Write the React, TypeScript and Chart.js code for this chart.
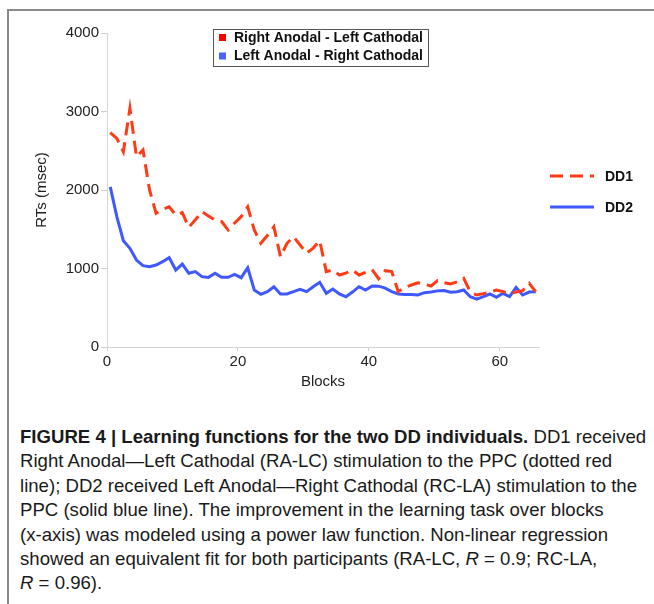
import React, { useEffect, useRef } from "react";
import { Chart, registerables } from "chart.js";

Chart.register(...registerables);

const blocks = Array.from({ length: 66 }, (_, i) => i + 0.5);

const dd1 = [
  2730, 2658, 2488, 3040, 2424, 2510, 2000, 1703, 1750, 1787,
  1682, 1711, 1525, 1620, 1724, 1670, 1618, 1600, 1490, 1580,
  1660, 1787, 1490, 1321, 1420, 1532, 1150, 1321, 1405, 1300,
  1194, 1260, 1354, 960, 981, 917, 940, 981, 917, 950,
  985, 870, 972, 960, 705, 760, 790, 819, 800, 777,
  845, 820, 803, 830, 875, 700, 662, 680, 700, 726,
  705, 684, 700, 717, 811, 705,
];

const dd2 = [
  2040, 1660, 1354, 1257, 1108, 1036, 1023, 1045, 1087, 1138,
  981, 1057, 939, 960, 896, 887, 939, 887, 887, 926,
  883, 1010, 726, 671, 705, 768, 675, 675, 705, 735,
  705, 768, 824, 684, 739, 675, 641, 700, 768, 726,
  777, 775, 750, 705, 675, 668, 670, 662, 692, 700,
  715, 720, 697, 705, 726, 641, 611, 641, 675, 632,
  684, 641, 760, 662, 700, 705,
];

const xTicks = [0, 20, 40, 60];
const yTicks = [0, 1000, 2000, 3000, 4000];
const seriesNames = ["DD1", "DD2"];
const boxLegend = ["Right Anodal - Left Cathodal", "Left Anodal - Right Cathodal"];

const RED = "#ff3a14";
const BLUE = "#3f58ff";
const FONT = "'Liberation Sans', Arial, Helvetica, sans-serif";

const legendPlugin = {
  id: "customLegends",
  afterDraw(chart: any) {
    const ctx = chart.ctx;
    ctx.save();
    ctx.strokeStyle = "#555";
    ctx.lineWidth = 1;
    ctx.strokeRect(213.5, 29.5, 215, 37);
    const sq = ["#ff0000", "#4a64ff"];
    const ys = [37.5, 56];
    ctx.font = "bold 14px " + FONT;
    ctx.textBaseline = "middle";
    ctx.textAlign = "left";
    for (let i = 0; i < 2; i++) {
      ctx.fillStyle = sq[i];
      ctx.fillRect(219, ys[i] - 3.5, 7, 7);
      ctx.fillStyle = "#111";
      ctx.fillText(boxLegend[i], 234, ys[i] + 0.5);
    }
    const ly = [176, 207];
    ctx.lineWidth = 3;
    for (let i = 0; i < 2; i++) {
      ctx.beginPath();
      ctx.strokeStyle = i === 0 ? RED : BLUE;
      ctx.setLineDash(i === 0 ? [13, 7] : []);
      ctx.moveTo(550, ly[i]);
      ctx.lineTo(594, ly[i]);
      ctx.stroke();
      ctx.setLineDash([]);
      ctx.fillStyle = "#111";
      ctx.font = "bold 14px " + FONT;
      ctx.fillText(seriesNames[i], 605, ly[i] + 1);
    }
    ctx.restore();
  },
};

export default function App() {
  const ref = useRef<HTMLCanvasElement>(null);
  useEffect(() => {
    if (!ref.current) return;
    const chart = new Chart(ref.current, {
      type: "line",
      data: {
        datasets: [
          {
            label: seriesNames[0],
            data: blocks.map((b, i) => ({ x: b, y: dd1[i] })),
            borderColor: RED,
            borderWidth: 3,
            borderDash: [13, 7],
            pointRadius: 0,
            tension: 0,
            fill: false,
          },
          {
            label: seriesNames[1],
            data: blocks.map((b, i) => ({ x: b, y: dd2[i] })),
            borderColor: BLUE,
            borderWidth: 3,
            pointRadius: 0,
            tension: 0,
            fill: false,
          },
        ],
      },
      options: {
        animation: false,
        responsive: false,
        devicePixelRatio: 1,
        layout: { padding: { left: 0, top: 33, right: 115, bottom: 0 } },
        plugins: { legend: { display: false }, tooltip: { enabled: false } },
        scales: {
          x: {
            type: "linear",
            min: 0,
            max: 66,
            afterBuildTicks: (s: any) => {
              s.ticks = xTicks.map((v) => ({ value: v }));
            },
            afterFit: (s: any) => {
              s.height = 53;
            },
            grid: { drawOnChartArea: false, color: "#d0d0d0", tickLength: 4 },
            border: { color: "#d6d6d6" },
            ticks: {
              color: "#222",
              font: { family: FONT, size: 15 },
              padding: 2,
              maxRotation: 0,
              callback: (v: any) => String(v),
            },
            title: {
              display: true,
              text: "Blocks",
              color: "#222",
              font: { family: FONT, size: 15 },
              padding: { top: 0, bottom: 9 },
            },
          },
          y: {
            type: "linear",
            min: 0,
            max: 4000,
            afterBuildTicks: (s: any) => {
              s.ticks = yTicks.map((v) => ({ value: v }));
            },
            afterFit: (s: any) => {
              s.width = 107;
            },
            grid: { drawOnChartArea: false, color: "#d0d0d0", tickLength: 6 },
            border: { color: "#d6d6d6" },
            ticks: {
              color: "#222",
              font: { family: FONT, size: 15 },
              padding: 2,
              callback: (v: any) => String(v),
            },
            title: {
              display: true,
              text: "RTs (msec)",
              color: "#222",
              font: { family: FONT, size: 15 },
              padding: { top: 33, bottom: 0 },
            },
          },
        },
      },
      plugins: [legendPlugin],
    });
    return () => chart.destroy();
  }, []);

  return (
    <div
      style={{
        position: "fixed",
        left: 0,
        top: 0,
        width: 654,
        height: 604,
        overflow: "hidden",
        background: "#fff",
      }}
    >
      <div
        style={{
          position: "absolute",
          left: 7,
          top: 9,
          width: 800,
          height: 800,
          border: "2px solid #8a8a8a",
        }}
      />
      <canvas
        ref={ref}
        width={654}
        height={400}
        style={{ position: "absolute", left: 0, top: 0, width: 654, height: 400 }}
      />
      <div
        style={{
          position: "absolute",
          left: 20,
          top: 425,
          fontFamily: FONT,
          fontSize: 18.6,
          lineHeight: "24.4px",
          color: "#1a1a1a",
          whiteSpace: "nowrap",
        }}
      >
        <b>FIGURE 4 | Learning functions for the two DD individuals.</b> DD1 received
        <br />
        Right Anodal—Left Cathodal (RA-LC) stimulation to the PPC (dotted red
        <br />
        line); DD2 received Left Anodal—Right Cathodal (RC-LA) stimulation to the
        <br />
        PPC (solid blue line). The improvement in the learning task over blocks
        <br />
        (x-axis) was modeled using a power law function. Non-linear regression
        <br />
        showed an equivalent fit for both participants (RA-LC, <i>R</i> = 0.9; RC-LA,
        <br />
        <i>R</i> = 0.96).
      </div>
    </div>
  );
}
